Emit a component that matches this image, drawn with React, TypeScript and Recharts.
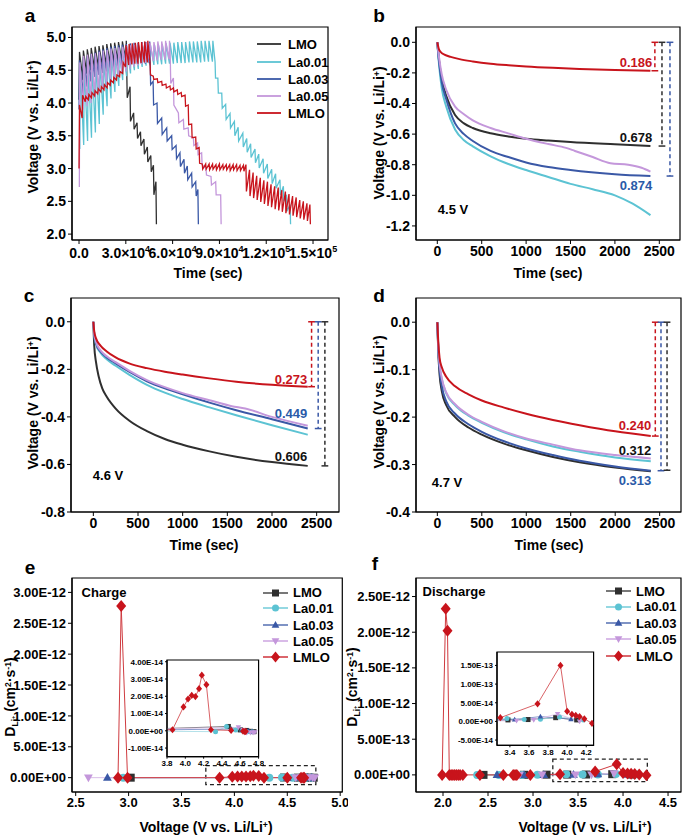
import React from 'react';
import { LineChart, Line, XAxis, YAxis, ReferenceLine, ReferenceArea } from 'recharts';

const FONT = "'Liberation Sans', Arial, Helvetica, sans-serif";
const COL = ['#2f2f2f', '#5cc3d3', '#3a58a6', '#c497db', '#c8141c'];
const LINE_COL = ['#555555', '#9fd9e3', '#6f82c2', '#d9bde8', '#cf3a3f'];
const NAMES = ['LMO', 'La0.01', 'La0.03', 'La0.05', 'LMLO'];
const MARKS = ['square', 'circle', 'tri', 'itri', 'diamond'];

// ---- panel a: GITT curves, [time (1e4 s), V before pulse, V after pulse]
const aLMO = [
  [0.0, 4.05, 4.78], [0.25, 4.35, 4.8], [0.5, 4.45, 4.82], [0.75, 4.5, 4.84], [1.0, 4.52, 4.86],
  [1.25, 4.55, 4.87], [1.5, 4.57, 4.88], [1.75, 4.58, 4.9], [2.0, 4.6, 4.91], [2.25, 4.62, 4.92],
  [2.5, 4.63, 4.93], [2.75, 4.64, 4.94], [3.0, 4.65, 4.95],
  [3.06, 4.48, 4.08], [3.27, 4.25, 3.72], [3.5, 3.85, 3.6], [3.72, 3.7, 3.46], [3.94, 3.56, 3.35],
  [4.16, 3.45, 3.22], [4.38, 3.33, 3.1], [4.6, 3.2, 2.95], [4.77, 3.05, 2.6], [4.93, 2.8, 2.15],
];
const aLa001 = [
  [0.05, 3.3, 4.58], [0.3, 3.36, 4.6], [0.55, 3.42, 4.62], [0.8, 3.47, 4.64], [1.05, 3.55, 4.66],
  [1.3, 3.68, 4.68], [1.55, 3.82, 4.7], [1.8, 3.95, 4.72], [2.05, 4.07, 4.74], [2.3, 4.17, 4.76],
  [2.55, 4.26, 4.78], [2.8, 4.35, 4.8], [3.05, 4.41, 4.82], [3.3, 4.45, 4.83], [3.55, 4.5, 4.84],
  [3.8, 4.52, 4.85], [4.05, 4.55, 4.86], [4.3, 4.57, 4.87], [4.55, 4.58, 4.88], [4.8, 4.58, 4.89],
  [5.05, 4.59, 4.9], [5.3, 4.59, 4.9], [5.55, 4.6, 4.91], [5.8, 4.6, 4.92], [6.05, 4.6, 4.92],
  [6.3, 4.61, 4.93], [6.55, 4.61, 4.93], [6.8, 4.61, 4.93], [7.05, 4.62, 4.94], [7.3, 4.62, 4.94],
  [7.55, 4.62, 4.94], [7.8, 4.62, 4.95], [8.05, 4.63, 4.95], [8.3, 4.63, 4.95], [8.55, 4.63, 4.95],
  [8.72, 4.63, 4.38], [8.9, 4.38, 4.15], [9.15, 4.15, 3.92], [9.4, 3.98, 3.75], [9.68, 3.84, 3.62],
  [9.96, 3.72, 3.5], [10.2, 3.63, 3.42], [10.5, 3.54, 3.33], [10.75, 3.46, 3.25], [11.0, 3.38, 3.17],
  [11.28, 3.3, 3.09], [11.52, 3.22, 3.01], [11.8, 3.15, 2.93], [12.07, 3.07, 2.85], [12.35, 2.99, 2.77],
  [12.6, 2.92, 2.7], [12.88, 2.83, 2.6], [13.1, 2.73, 2.5], [13.3, 2.6, 2.35], [13.53, 2.45, 2.15],
];
const aLa003 = [
  [0.0, 3.9, 4.65], [0.25, 4.1, 4.7], [0.5, 4.25, 4.72], [0.75, 4.33, 4.75], [1.0, 4.4, 4.77],
  [1.25, 4.43, 4.8], [1.5, 4.46, 4.82], [1.75, 4.48, 4.84], [2.0, 4.5, 4.86], [2.25, 4.52, 4.87],
  [2.5, 4.53, 4.88], [2.75, 4.55, 4.89], [3.0, 4.56, 4.9], [3.25, 4.57, 4.91], [3.5, 4.58, 4.92],
  [3.75, 4.59, 4.92], [4.0, 4.6, 4.93], [4.25, 4.6, 4.93], [4.5, 4.61, 4.94],
  [4.56, 4.63, 4.28], [4.75, 4.33, 3.97], [5.0, 4.0, 3.69], [5.3, 3.77, 3.52], [5.62, 3.62, 3.42],
  [5.94, 3.5, 3.29], [6.22, 3.35, 3.15], [6.47, 3.24, 3.03], [6.73, 3.14, 2.93], [6.94, 3.04, 2.83],
  [7.22, 2.93, 2.72], [7.48, 2.8, 2.58], [7.62, 2.68, 2.15],
];
const aLa005 = [
  [0.02, 2.72, 4.62], [0.27, 3.9, 4.72], [0.52, 3.95, 4.74], [0.77, 4.0, 4.75], [1.02, 4.08, 4.76],
  [1.27, 4.15, 4.78], [1.52, 4.22, 4.8], [1.77, 4.28, 4.81], [2.02, 4.33, 4.83], [2.27, 4.38, 4.84],
  [2.52, 4.42, 4.85], [2.77, 4.45, 4.86], [3.02, 4.48, 4.87], [3.27, 4.52, 4.88], [3.52, 4.55, 4.89],
  [3.77, 4.57, 4.9], [4.02, 4.59, 4.91], [4.27, 4.61, 4.92], [4.52, 4.63, 4.92], [4.77, 4.64, 4.93],
  [5.02, 4.65, 4.94], [5.27, 4.66, 4.94], [5.52, 4.66, 4.95], [5.77, 4.67, 4.95],
  [5.85, 4.67, 4.3], [6.05, 4.38, 3.97], [6.37, 3.85, 3.7], [6.69, 3.75, 3.6], [7.0, 3.62, 3.5],
  [7.33, 3.47, 3.35], [7.6, 3.39, 3.21], [7.86, 3.24, 3.06], [8.14, 3.0, 2.9], [8.46, 2.88, 2.75],
  [8.76, 2.8, 2.6], [9.08, 2.6, 2.15],
];
const aLMLO = [
  [0.0, 3.0, 3.97], [0.2, 3.77, 4.12], [0.4, 4.02, 4.1], [0.6, 4.05, 4.13], [0.8, 4.08, 4.16],
  [1.0, 4.11, 4.19], [1.2, 4.14, 4.22], [1.4, 4.17, 4.25], [1.6, 4.2, 4.28], [1.8, 4.23, 4.31],
  [2.0, 4.27, 4.35], [2.2, 4.31, 4.39], [2.4, 4.35, 4.43], [2.6, 4.4, 4.48], [2.8, 4.45, 4.62],
  [2.98, 4.55, 4.88], [3.18, 4.58, 4.9], [3.38, 4.59, 4.91], [3.58, 4.6, 4.92], [3.78, 4.6, 4.93],
  [3.98, 4.61, 4.93], [4.18, 4.62, 4.94], [4.38, 4.62, 4.95],
  [4.55, 4.62, 4.43], [4.76, 4.41, 4.36], [5.02, 4.37, 4.31], [5.3, 4.33, 4.27], [5.57, 4.29, 4.23],
  [5.83, 4.26, 4.2], [6.05, 4.23, 4.17], [6.3, 4.2, 4.13], [6.55, 4.16, 4.1], [6.8, 4.12, 3.95],
  [7.0, 3.97, 3.67], [7.22, 3.68, 3.47], [7.48, 3.48, 3.3], [7.7, 3.32, 3.08],
  [7.9, 3.07, 2.99], [8.12, 3.07, 2.99], [8.34, 3.07, 2.98], [8.56, 3.07, 2.99], [8.78, 3.06, 2.98],
  [9.0, 3.07, 2.98], [9.22, 3.06, 2.99], [9.44, 3.06, 2.98], [9.66, 3.06, 2.97], [9.88, 3.06, 2.98],
  [10.1, 3.06, 2.97], [10.32, 3.05, 2.97], [10.54, 3.05, 2.96],
  [10.7, 3.06, 2.65], [10.93, 2.98, 2.58], [11.16, 2.94, 2.55], [11.39, 2.89, 2.52], [11.62, 2.86, 2.49],
  [11.85, 2.82, 2.46], [12.08, 2.8, 2.43], [12.31, 2.76, 2.41], [12.54, 2.73, 2.38], [12.77, 2.71, 2.36],
  [13.0, 2.67, 2.34], [13.23, 2.65, 2.32], [13.46, 2.61, 2.3], [13.69, 2.58, 2.28], [13.92, 2.56, 2.26],
  [14.15, 2.52, 2.24], [14.38, 2.5, 2.22], [14.61, 2.47, 2.2], [14.8, 2.45, 2.15],
];
const aTicks = [0, 3, 6, 9, 12, 15];
const aTickMant = ['0.0', '3.0×10', '6.0×10', '9.0×10', '1.2×10', '1.5×10'];
const aTickExp = ['', '4', '4', '4', '5', '5'];

// ---- panels b-d: relaxation curves [time (s), V]
const bLMO = [[0, 0], [20, -0.12], [50, -0.24], [100, -0.35], [200, -0.475], [300, -0.53], [400, -0.56], [600, -0.595], [800, -0.615], [1000, -0.63], [1250, -0.642], [1500, -0.652], [2000, -0.667], [2400, -0.678]];
const bLa001 = [[0, 0], [20, -0.15], [50, -0.3], [100, -0.42], [200, -0.57], [300, -0.64], [400, -0.68], [600, -0.745], [800, -0.795], [1000, -0.835], [1250, -0.88], [1500, -0.925], [1750, -0.96], [2000, -1.0], [2200, -1.055], [2400, -1.13]];
const bLa003 = [[0, 0], [20, -0.13], [50, -0.26], [100, -0.37], [200, -0.53], [300, -0.6], [400, -0.645], [600, -0.71], [800, -0.75], [1000, -0.785], [1250, -0.815], [1500, -0.835], [2000, -0.862], [2400, -0.874]];
const bLa005 = [[0, 0], [20, -0.1], [50, -0.21], [100, -0.31], [200, -0.42], [300, -0.47], [400, -0.51], [600, -0.56], [800, -0.595], [1000, -0.63], [1250, -0.665], [1450, -0.69], [1550, -0.71], [1750, -0.75], [1950, -0.79], [2150, -0.8], [2300, -0.82], [2400, -0.845]];
const bLMLO = [[0, 0], [15, -0.04], [40, -0.065], [80, -0.08], [150, -0.095], [250, -0.11], [400, -0.125], [600, -0.14], [800, -0.15], [1000, -0.158], [1300, -0.167], [1600, -0.174], [2000, -0.181], [2400, -0.186]];

const cLMO = [[0, 0], [10, -0.1], [30, -0.17], [60, -0.23], [100, -0.28], [150, -0.315], [250, -0.365], [400, -0.415], [600, -0.46], [800, -0.493], [1000, -0.517], [1300, -0.545], [1600, -0.568], [2000, -0.59], [2400, -0.606]];
const cLa001 = [[0, 0], [10, -0.055], [30, -0.095], [80, -0.13], [150, -0.158], [250, -0.185], [400, -0.222], [600, -0.265], [800, -0.298], [1000, -0.325], [1300, -0.36], [1600, -0.393], [2000, -0.435], [2400, -0.475]];
const cLa003 = [[0, 0], [10, -0.05], [30, -0.09], [80, -0.125], [150, -0.15], [250, -0.175], [400, -0.21], [600, -0.25], [800, -0.28], [1000, -0.305], [1300, -0.34], [1600, -0.372], [2000, -0.41], [2400, -0.449]];
const cLa005 = [[0, 0], [10, -0.05], [30, -0.085], [80, -0.12], [150, -0.145], [250, -0.17], [400, -0.205], [600, -0.245], [800, -0.275], [1000, -0.3], [1300, -0.33], [1550, -0.355], [1700, -0.365], [2000, -0.4], [2400, -0.437]];
const cLMLO = [[0, 0], [10, -0.04], [30, -0.07], [80, -0.1], [150, -0.125], [250, -0.15], [400, -0.175], [600, -0.195], [800, -0.21], [1000, -0.222], [1300, -0.238], [1600, -0.252], [2000, -0.265], [2400, -0.273]];

const dLMO = [[0, 0], [10, -0.06], [25, -0.11], [50, -0.145], [100, -0.175], [200, -0.2], [350, -0.222], [500, -0.237], [750, -0.256], [1000, -0.27], [1300, -0.284], [1600, -0.295], [2000, -0.306], [2400, -0.314]];
const dLa001 = [[0, 0], [10, -0.05], [25, -0.09], [50, -0.12], [100, -0.15], [200, -0.175], [350, -0.197], [500, -0.212], [750, -0.232], [1000, -0.247], [1300, -0.262], [1600, -0.273], [2000, -0.285], [2400, -0.293]];
const dLa003 = [[0, 0], [10, -0.055], [25, -0.1], [50, -0.135], [100, -0.167], [200, -0.193], [350, -0.215], [500, -0.231], [750, -0.251], [1000, -0.266], [1300, -0.28], [1600, -0.292], [2000, -0.304], [2400, -0.313]];
const dLa005 = [[0, 0], [10, -0.05], [25, -0.088], [50, -0.118], [100, -0.148], [200, -0.173], [350, -0.195], [500, -0.21], [750, -0.23], [1000, -0.245], [1300, -0.258], [1600, -0.27], [2000, -0.28], [2400, -0.287]];
const dLMLO = [[0, 0], [10, -0.04], [25, -0.075], [50, -0.095], [100, -0.115], [200, -0.135], [350, -0.152], [500, -0.165], [750, -0.18], [1000, -0.193], [1300, -0.206], [1600, -0.217], [2000, -0.23], [2400, -0.24]];

// IR drop markers: [x, drop]
const bDrops = [[2450, 0.186], [2530, 0.678], [2620, 0.874]];
const cDrops = [[2443, 0.273], [2517, 0.449], [2592, 0.606]];
const dDrops = [[2451, 0.24], [2515, 0.313], [2583, 0.312]];

// ---- panels e-f: diffusion coefficient [V, D (cm2/s)]
const eLMO = [[3.02, 0], [4.47, 0.25e-14], [4.6, 0.05e-14], [4.67, 0.02e-14], [4.71, -0.03e-14], [4.75, -0.05e-14]];
const eLa001 = [[2.95, 0], [4.33, -0.05e-14], [4.45, 0.25e-14], [4.55, 0.05e-14], [4.62, 0.0], [4.68, -0.05e-14], [4.73, -0.05e-14]];
const eLa003 = [[2.8, 0], [4.5, 0.1e-14], [4.62, 0.05e-14], [4.69, 0], [4.73, -0.05e-14]];
const eLa005 = [[2.62, 0], [4.58, 0.2e-14], [4.63, 0.05e-14], [4.67, -0.1e-14], [4.71, -0.1e-14], [4.74, -0.1e-14], [4.76, -0.08e-14]];
const eLMLO = [[2.9, 0], [2.93, 2.78e-12], [2.99, 0], [3.86, 0.06e-14], [3.98, 1.38e-14], [4.03, 1.84e-14], [4.07, 2.05e-14], [4.11, 1.98e-14], [4.15, 2.44e-14], [4.18, 3.22e-14], [4.23, 2.67e-14], [4.28, 0.06e-14], [4.5, 0.02e-14], [4.63, -0.02e-14], [4.65, -0.05e-14], [4.66, -0.03e-14]];

const fLMO = [[2.45, 0], [2.9, 0.01e-13], [3.15, 0.03e-13], [3.38, 0.04e-13], [3.59, 0.05e-13], [3.88, 0.1e-13], [4.1, 0.04e-13]];
const fLa001 = [[2.38, 0], [2.62, 0], [2.88, 0], [3.05, 0.02e-13], [3.37, 0.08e-13], [3.55, 0.05e-13], [3.72, 0.06e-13], [3.92, 0.12e-13], [4.17, 0.04e-13]];
const fLa003 = [[2.6, 0], [2.9, 0.01e-13], [3.12, 0.02e-13], [3.45, 0.05e-13], [3.72, 0.13e-13], [4.04, 0.06e-13]];
const fLa005 = [[2.85, 0], [3.1, 0.01e-13], [3.47, 0.02e-13], [3.65, 0.04e-13], [3.9, 0.2e-13], [4.13, 0.0]];
const fLMLO = [[1.99, 0], [2.03, 2.33e-12], [2.05, 2.02e-12], [2.07, 0], [2.09, 0], [2.11, 0], [2.13, 0], [2.15, 0], [2.17, 0], [2.19, 0], [2.22, 0], [2.41, 0], [2.67, 0], [2.78, 0], [2.8, 0], [2.82, 0], [2.97, 0], [3.3, 0.1e-13], [3.69, 0.47e-13], [3.93, 1.5e-13], [4.0, 0.27e-13], [4.05, 0.19e-13], [4.09, 0.16e-13], [4.13, 0.13e-13], [4.18, 0.07e-13], [4.26, -0.05e-13]];

const pts = (arr: number[][]) => arr.map(([x, y]) => ({ x, y }));
const saw = (arr: number[][]) => arr.flatMap(([t, a, b]) => [{ x: t, y: a }, { x: t + 0.03, y: b }]);

const sci = (v: number) => {
  if (v === 0) return '0.00E+00';
  const [m, e] = v.toExponential(2).split('e');
  const n = parseInt(e, 10);
  return `${m}E${n < 0 ? '-' : '+'}${String(Math.abs(n)).padStart(2, '0')}`;
};
const f1 = (v: number) => v.toFixed(1);

function Marker({ kind, cx, cy, s, c }: { kind: string; cx: number; cy: number; s: number; c: string }) {
  const h = s / 2;
  if (kind === 'square') return <rect x={cx - h} y={cy - h} width={s} height={s} fill={c} />;
  if (kind === 'circle') return <circle cx={cx} cy={cy} r={h} fill={c} />;
  if (kind === 'tri') return <polygon points={`${cx},${cy - h * 1.15} ${cx + h * 1.1},${cy + h * 0.8} ${cx - h * 1.1},${cy + h * 0.8}`} fill={c} />;
  if (kind === 'itri') return <polygon points={`${cx},${cy + h * 1.15} ${cx + h * 1.1},${cy - h * 0.8} ${cx - h * 1.1},${cy - h * 0.8}`} fill={c} />;
  return <polygon points={`${cx},${cy - h * 1.2} ${cx + h},${cy} ${cx},${cy + h * 1.2} ${cx - h},${cy}`} fill={c} />;
}

type PlotProps = {
  rect: number[]; yW: number; xH?: number; xDomain: number[]; yDomain: number[];
  xTicks: number[]; yTicks: number[]; xFmt?: (v: number) => string; yFmt?: (v: number) => string;
  xTick?: any; fs?: number; tickSize?: number; extraR?: number; children?: React.ReactNode;
};

function Plot({ rect, yW, xH = 26, xDomain, yDomain, xTicks, yTicks, xFmt, yFmt, xTick, fs = 14, tickSize = 4, extraR = 0, children }: PlotProps) {
  const [x0, y0, x1, y1] = rect;
  const pad = 6;
  const tickStyle = { fill: '#000', fontSize: fs, fontWeight: 700 };
  return (
    <div style={{ position: 'absolute', left: x0 - yW, top: y0 - pad }}>
      <LineChart width={x1 - x0 + yW + pad + extraR} height={y1 - y0 + pad + xH} margin={{ top: pad, right: pad + extraR, bottom: 0, left: 0 }}>
        <XAxis type="number" dataKey="x" domain={xDomain} ticks={xTicks} interval={0} allowDataOverflow height={xH}
          tick={xTick ?? tickStyle} tickFormatter={xFmt} tickSize={tickSize} tickLine={{ stroke: '#000' }} axisLine={{ stroke: '#000', strokeWidth: 1.2 }} />
        <YAxis type="number" dataKey="y" domain={yDomain} ticks={yTicks} interval={0} allowDataOverflow width={yW}
          tick={tickStyle} tickFormatter={yFmt} tickSize={tickSize} tickLine={{ stroke: '#000' }} axisLine={{ stroke: '#000', strokeWidth: 1.2 }} />
        <ReferenceArea x1={xDomain[0]} x2={xDomain[1]} y1={yDomain[0]} y2={yDomain[1]} fill="none" stroke="#000" strokeWidth={1.2} ifOverflow="visible" />
        {children}
      </LineChart>
    </div>
  );
}

const ATick = (p: any) => {
  const i = aTicks.indexOf(p.payload.value);
  return (
    <text x={p.x} y={p.y} dy={12} textAnchor="middle" fontSize={14} fontWeight={700} fill="#000">
      {aTickMant[i]}
      {aTickExp[i] ? <tspan dy={-6} fontSize={9}>{aTickExp[i]}</tspan> : null}
    </text>
  );
};

function Txt({ x, y, c = '#000', s = 13, rot = false, children }: { x: number; y: number; c?: string; s?: number; rot?: boolean; children: React.ReactNode }) {
  return (
    <div style={{ position: 'absolute', left: x, top: y, transform: `translate(-50%,-50%)${rot ? ' rotate(-90deg)' : ''}`, color: c, fontSize: s, fontWeight: 700, whiteSpace: 'nowrap', lineHeight: 1 }}>
      {children}
    </div>
  );
}

const sup = (t: string) => <sup style={{ fontSize: '0.62em', verticalAlign: '0.5em' }}>{t}</sup>;
const VLabel = <>Voltage (V vs. Li/Li{sup('+')})</>;
const DLabel = <>D<sub style={{ fontSize: '0.62em', verticalAlign: '-0.3em' }}>Li{sup('+')}</sub> (cm{sup('2')}·s{sup('-1')})</>;

const curveLines = (sets: number[][][], w = 2) =>
  sets.map((s, i) => (
    <Line key={i} data={pts(s)} dataKey="y" type="monotone" stroke={COL[i]} strokeWidth={w} dot={false} activeDot={false} isAnimationActive={false} />
  ));

const dropLines = (drops: number[][], colors: string[]) =>
  drops.flatMap(([x, d], i) => [
    <ReferenceLine key={`v${i}`} segment={[{ x, y: 0 }, { x, y: -d }]} stroke={colors[i]} strokeWidth={1.5} strokeDasharray="4 3" />,
    <ReferenceLine key={`t${i}`} segment={[{ x: x - 38, y: 0 }, { x: x + 38, y: 0 }]} stroke={colors[i]} strokeWidth={1.5} />,
    <ReferenceLine key={`b${i}`} segment={[{ x: x - 38, y: -d }, { x: x + 38, y: -d }]} stroke={colors[i]} strokeWidth={1.5} />,
  ]);

const markLines = (sets: number[][][], sizes: number[], lw = 1) =>
  sets.map((s, i) => (
    <Line key={i} data={pts(s)} dataKey="y" type="linear" stroke={LINE_COL[i]} strokeWidth={lw} activeDot={false} isAnimationActive={false}
      dot={(p: any) => <Marker key={p.index} kind={MARKS[i]} cx={p.cx} cy={p.cy} s={sizes[i]} c={COL[i]} />} />
  ));

function MarkLegend({ x, ys }: { x: number; ys: number[] }) {
  return (
    <>
      {NAMES.map((n, i) => (
        <div key={n} style={{ position: 'absolute', left: x, top: ys[i] - 8, height: 16, display: 'flex', alignItems: 'center' }}>
          <svg width={25} height={16}>
            <line x1={0} x2={25} y1={8} y2={8} stroke={COL[i]} strokeWidth={1.3} />
            <Marker kind={MARKS[i]} cx={12.5} cy={8} s={i === 4 ? 9 : 7} c={COL[i]} />
          </svg>
          <span style={{ marginLeft: 5, fontSize: 13, fontWeight: 700 }}>{n}</span>
        </div>
      ))}
    </>
  );
}

const eSets = [eLMO, eLa001, eLa003, eLa005, eLMLO];
const fSets = [fLMO, fLa001, fLa003, fLa005, fLMLO];

export default function App() {
  const aSets = [aLMO, aLa001, aLa003, aLa005, aLMLO];
  return (
    <div style={{ position: 'absolute', left: 0, top: 0, width: 685, height: 839, background: '#fff', fontFamily: FONT, overflow: 'hidden' }}>
      {/* a */}
      <Plot rect={[72, 27, 328, 240]} yW={60} extraR={24} xDomain={[-0.45, 15.96]} yDomain={[1.91, 5.16]} xTicks={aTicks}
        yTicks={[2, 2.5, 3, 3.5, 4, 4.5, 5]} yFmt={f1} xTick={<ATick />}>
        {aSets.map((s, i) => (
          <Line key={i} data={saw(s)} dataKey="y" type="linear" stroke={COL[i]} strokeWidth={1.3} dot={false} activeDot={false} isAnimationActive={false} />
        ))}
      </Plot>
      {NAMES.map((n, i) => (
        <div key={n} style={{ position: 'absolute', left: 257, top: [44, 62, 79, 96, 113][i] - 8, height: 16, display: 'flex', alignItems: 'center' }}>
          <svg width={24} height={16}><line x1={0} x2={24} y1={8} y2={8} stroke={COL[i]} strokeWidth={1.8} /></svg>
          <span style={{ marginLeft: 7, fontSize: 13, fontWeight: 700 }}>{n}</span>
        </div>
      ))}

      {/* b */}
      <Plot rect={[416, 27, 680, 240]} yW={60} xDomain={[-240, 2733]} yDomain={[-1.292, 0.1]} xTicks={[0, 500, 1000, 1500, 2000, 2500]}
        yTicks={[0, -0.2, -0.4, -0.6, -0.8, -1.0, -1.2]} yFmt={f1}>
        {curveLines([bLMO, bLa001, bLa003, bLa005, bLMLO])}
        {dropLines(bDrops, [COL[4], COL[0], COL[2]])}
      </Plot>

      {/* c */}
      <Plot rect={[71, 298, 339, 512]} yW={60} xDomain={[-250, 2750]} yDomain={[-0.8, 0.1]} xTicks={[0, 500, 1000, 1500, 2000, 2500]}
        yTicks={[0, -0.2, -0.4, -0.6, -0.8]} yFmt={f1}>
        {curveLines([cLMO, cLa001, cLa003, cLa005, cLMLO])}
        {dropLines(cDrops, [COL[4], COL[2], COL[0]])}
      </Plot>

      {/* d */}
      <Plot rect={[416, 298, 681, 512]} yW={60} xDomain={[-240, 2740]} yDomain={[-0.4, 0.051]} xTicks={[0, 500, 1000, 1500, 2000, 2500]}
        yTicks={[0, -0.1, -0.2, -0.3, -0.4]} yFmt={f1}>
        {curveLines([dLMO, dLa001, dLa003, dLa005, dLMLO])}
        {dropLines(dDrops, [COL[4], COL[2], COL[0]])}
      </Plot>

      {/* e */}
      <Plot rect={[71.7, 578, 342, 792]} yW={62} xDomain={[2.465, 5.02]} yDomain={[-0.232e-12, 3.233e-12]} xTicks={[2.5, 3, 3.5, 4, 4.5, 5]}
        yTicks={[0, 0.5e-12, 1e-12, 1.5e-12, 2e-12, 2.5e-12, 3e-12]} xFmt={f1} yFmt={sci} fs={13}>
        <ReferenceArea x1={3.73} x2={4.77} y1={-0.114e-12} y2={0.195e-12} fill="none" stroke="#222" strokeWidth={1.3} strokeDasharray="4 3" />
        {markLines(eSets, [8, 8, 8, 8, 10])}
      </Plot>
      <Plot rect={[166.7, 660, 258.3, 756.7]} yW={42} xH={13} xDomain={[3.8, 4.8]} yDomain={[-1.5e-14, 4.1e-14]} xTicks={[3.8, 4.0, 4.2, 4.4, 4.6, 4.8]}
        yTicks={[-1e-14, 0, 1e-14, 2e-14, 3e-14, 4e-14]} xFmt={f1} yFmt={sci} fs={8} tickSize={2}>
        {markLines(eSets, [5, 5, 5, 5, 6], 0.8)}
      </Plot>

      {/* f */}
      <Plot rect={[416, 578, 681, 792]} yW={62} xDomain={[1.7, 4.644]} yDomain={[-0.24e-12, 2.76e-12]} xTicks={[2, 2.5, 3, 3.5, 4, 4.5]}
        yTicks={[0, 0.5e-12, 1e-12, 1.5e-12, 2e-12, 2.5e-12]} xFmt={f1} yFmt={sci} fs={13}>
        <ReferenceArea x1={3.22} x2={4.27} y1={-0.095e-12} y2={0.22e-12} fill="none" stroke="#222" strokeWidth={1.3} strokeDasharray="4 3" />
        {markLines(fSets, [8, 8, 8, 8, 10])}
      </Plot>
      <Plot rect={[496.7, 651.7, 593.3, 745]} yW={42} xH={13} xDomain={[3.265, 4.277]} yDomain={[-0.64e-13, 1.86e-13]} xTicks={[3.4, 3.6, 3.8, 4.0, 4.2]}
        yTicks={[-5e-14, 0, 5e-14, 1e-13, 1.5e-13]} xFmt={f1} yFmt={sci} fs={8} tickSize={2}>
        {markLines(fSets, [5, 5, 5, 5, 6], 0.8)}
      </Plot>

      {/* panel letters */}
      <Txt x={30} y={15} s={19}>a</Txt>
      <Txt x={379} y={15} s={19}>b</Txt>
      <Txt x={29} y={295} s={19}>c</Txt>
      <Txt x={379} y={295} s={19}>d</Txt>
      <Txt x={30} y={567} s={19}>e</Txt>
      <Txt x={375} y={563} s={19}>f</Txt>

      {/* axis titles */}
      <Txt x={208} y={273} s={14}>Time (sec)</Txt>
      <Txt x={548} y={273} s={14}>Time (sec)</Txt>
      <Txt x={204} y={545} s={14}>Time (sec)</Txt>
      <Txt x={549} y={545} s={14}>Time (sec)</Txt>
      <Txt x={206} y={827} s={14}>{VLabel}</Txt>
      <Txt x={585} y={827} s={14}>{VLabel}</Txt>
      <Txt x={33} y={127} s={14} rot>{VLabel}</Txt>
      <Txt x={379} y={133} s={14} rot>{VLabel}</Txt>
      <Txt x={33} y={403} s={14} rot>{VLabel}</Txt>
      <Txt x={379} y={402} s={14} rot>{VLabel}</Txt>
      <Txt x={11} y={697} s={14} rot>{DLabel}</Txt>
      <Txt x={353} y={687} s={14} rot>{DLabel}</Txt>

      {/* annotations */}
      <Txt x={636} y={62} c={COL[4]}>0.186</Txt>
      <Txt x={636} y={137} c="#111">0.678</Txt>
      <Txt x={636} y={185} c="#2a5aa8">0.874</Txt>
      <Txt x={453} y={209}>4.5 V</Txt>
      <Txt x={291} y={379} c={COL[4]}>0.273</Txt>
      <Txt x={291} y={413} c="#2a5aa8">0.449</Txt>
      <Txt x={291} y={456} c="#111">0.606</Txt>
      <Txt x={108} y={475}>4.6 V</Txt>
      <Txt x={635} y={425} c={COL[4]}>0.240</Txt>
      <Txt x={635} y={450} c="#111">0.312</Txt>
      <Txt x={635} y={480} c="#2a5aa8">0.313</Txt>
      <Txt x={447} y={482}>4.7 V</Txt>
      <Txt x={104} y={592}>Charge</Txt>
      <Txt x={454} y={591}>Discharge</Txt>

      <MarkLegend x={263} ys={[592.7, 608.3, 625, 641, 657.3]} />
      <MarkLegend x={606} ys={[591, 606.7, 623.3, 639.3, 656]} />
    </div>
  );
}
